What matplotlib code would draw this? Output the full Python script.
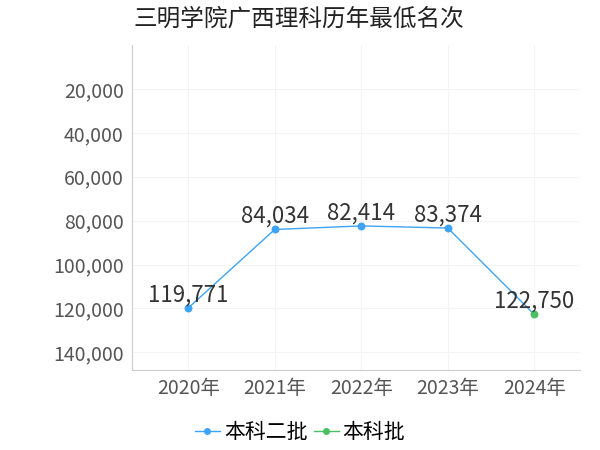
import matplotlib.pyplot as plt
from matplotlib.lines import Line2D

plt.rcParams['font.family'] = ['Noto Sans CJK SC', 'DejaVu Sans']

years = ['2020年', '2021年', '2022年', '2023年', '2024年']
ranks = [119771, 84034, 82414, 83374, 122750]
batch = ['本科二批', '本科二批', '本科二批', '本科二批', '本科批']
colors = {'本科二批': '#3fa3f5', '本科批': '#4cbf62'}
yticks = [20000, 40000, 60000, 80000, 100000, 120000, 140000]

fig = plt.figure(figsize=(6, 4.5), dpi=100)
ax = fig.add_axes([0.22, 0.178, 0.747, 0.722])

x = list(range(len(years)))
ax.plot(x, ranks, color='#3fa3f5', lw=1, zorder=2)
for i, (r, b) in enumerate(zip(ranks, batch)):
    ax.scatter(i, r, s=22, color=colors[b], zorder=3)
    ax.annotate(f'{r:,}', (i, r), xytext=(0, 1), textcoords='offset points',
                ha='center', va='bottom', fontsize=16, color='#333333')

ax.set_ylim(148000, 0)
ax.set_xlim(-0.65, 4.53)
ax.set_yticks(yticks)
ax.set_yticklabels([f'{v:,}' for v in yticks])
ax.set_xticks(x)
ax.set_xticklabels(years)
ax.tick_params(labelsize=14, colors='#555555', length=0, pad=6)
ax.grid(True, color='#f4f4f4', lw=0.8)
for s in ['top', 'right']:
    ax.spines[s].set_visible(False)
for s in ['left', 'bottom']:
    ax.spines[s].set_color('#cccccc')

fig.text(0.222, 0.958, '三明学院广西理科历年最低名次', fontsize=17, color='#222222', va='center')

handles = [Line2D([0], [0], color=colors[k], marker='o', markersize=4, lw=1) for k in colors]
fig.legend(handles, list(colors), loc='center', bbox_to_anchor=(0.5, 0.04), ncol=2,
           frameon=False, fontsize=15, handlelength=1.2, handletextpad=0.2, columnspacing=0.3)

fig.savefig('out.png')
